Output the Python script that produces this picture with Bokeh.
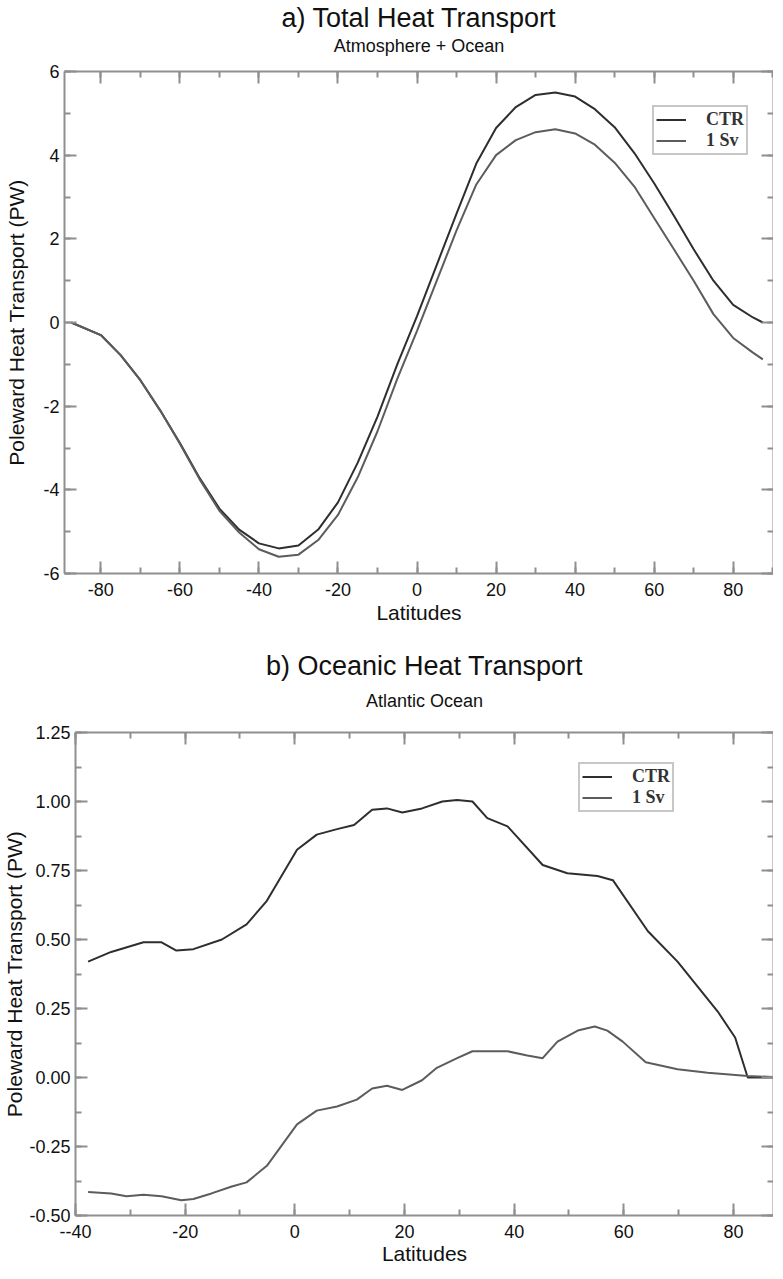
from bokeh.plotting import figure
from bokeh.models import (Title, LinearAxis, Legend, LegendItem, Range1d, Spacer,
                          SingleIntervalTicker, CustomJSTickFormatter)
from bokeh.embed import file_html
from bokeh.resources import INLINE

# ---------- data: panel a (Total heat transport, Atmosphere + Ocean) ----------
lat_a = [-87.5, -80, -75, -70, -65, -60, -55, -50, -45, -40, -35, -30, -25, -20,
         -15, -10, -5, 0, 5, 10, 15, 20, 25, 30, 35, 40, 45, 50, 55, 60, 65, 70,
         75, 80, 85, 87.5]
ctr_a = [0.0, -0.3, -0.78, -1.38, -2.1, -2.88, -3.72, -4.45, -4.95, -5.28, -5.4,
         -5.33, -4.95, -4.3, -3.35, -2.25, -1.0, 0.15, 1.38, 2.6, 3.8, 4.65, 5.15,
         5.44, 5.5, 5.4, 5.1, 4.67, 4.05, 3.33, 2.55, 1.75, 1.0, 0.42, 0.12, 0.0]
sv_a = [0.0, -0.3, -0.78, -1.38, -2.1, -2.9, -3.75, -4.5, -5.02, -5.42, -5.6,
        -5.55, -5.2, -4.6, -3.7, -2.6, -1.35, -0.2, 1.0, 2.2, 3.3, 4.0, 4.36,
        4.55, 4.62, 4.52, 4.25, 3.82, 3.25, 2.5, 1.75, 1.0, 0.2, -0.37, -0.72, -0.88]

# ---------- data: panel b (Oceanic heat transport, Atlantic) ----------
lat_b_ctr = [-37.7, -33.5, -27.6, -24.3, -21.6, -18.5, -13.3, -8.8, -5.1, 0.4, 4.0,
             7.7, 10.8, 14.1, 16.8, 19.6, 23.2, 26.9, 29.6, 32.4, 35.1, 38.8, 45.2,
             49.7, 55.2, 58.0, 64.4, 69.8, 77.1, 80.3, 82.6, 90.0]
ctr_b = [0.42, 0.455, 0.49, 0.49, 0.46, 0.465, 0.5, 0.555, 0.64, 0.825, 0.88,
         0.9, 0.915, 0.97, 0.975, 0.96, 0.975, 1.0, 1.005, 1.0, 0.94, 0.91, 0.77,
         0.74, 0.73, 0.715, 0.53, 0.42, 0.24, 0.145, 0.0, 0.0]
lat_b_sv = [-37.7, -33.5, -30.7, -27.6, -24.3, -20.7, -18.5, -15.2, -11.5, -8.8,
            -5.1, 0.4, 4.0, 7.7, 11.3, 14.1, 16.8, 19.6, 23.2, 25.9, 29.6, 32.4,
            38.8, 42.4, 45.2, 47.9, 51.6, 54.7, 57.0, 59.8, 64.0, 69.8, 75.3, 82.6, 90.0]
sv_b = [-0.415, -0.42, -0.43, -0.425, -0.43, -0.445, -0.44, -0.42, -0.395, -0.38,
        -0.32, -0.17, -0.12, -0.105, -0.08, -0.04, -0.03, -0.045, -0.01, 0.035,
        0.07, 0.095, 0.095, 0.08, 0.07, 0.13, 0.17, 0.185, 0.17, 0.13, 0.055,
        0.03, 0.017, 0.005, 0.0]

series_names = ["CTR", "1 Sv"]
titles_a = ["a) Total Heat Transport", "Atmosphere + Ocean"]
titles_b = ["b) Oceanic Heat Transport", "Atlantic Ocean"]
x_label = "Latitudes"
y_label = "Poleward Heat Transport (PW)"

SANS = "Liberation Sans"
SERIF = "Liberation Serif"
AXIS_COL = "#8f8f8f"
CTR_COL = "#2e2e2e"
SV_COL = "#5c5c5c"
TXT = "#111111"


def style_axis(ax, show_labels):
    ax.axis_line_color = AXIS_COL
    ax.axis_line_width = 2
    ax.major_tick_line_color = AXIS_COL
    ax.minor_tick_line_color = AXIS_COL
    ax.major_tick_line_width = 2
    ax.minor_tick_line_width = 2
    ax.major_tick_in = 12
    ax.major_tick_out = 0
    ax.minor_tick_in = 6
    ax.minor_tick_out = 0
    ax.major_label_text_font = SANS
    ax.axis_label_text_font = SANS
    ax.axis_label_text_font_style = "normal"
    ax.axis_label_text_color = TXT
    if show_labels:
        ax.major_label_text_color = TXT
        ax.major_label_text_font_size = "18px"
        ax.axis_label_text_font_size = "21px"
    else:
        ax.formatter = CustomJSTickFormatter(code="return '';")
        ax.major_label_text_color = None
        ax.major_label_text_font_size = "0px"
        ax.major_label_standoff = 0


def make_panel(titles, xr, yr, xint, yint, fw, fh, borders, leg_loc,
               xs1, ys1, xs2, ys2, xfmt, yfmt, title_gap, sub_gap,
               xlab_gap, xaxis_gap, yaxis_gap):
    p = figure(frame_width=fw, frame_height=fh,
               x_range=Range1d(*xr), y_range=Range1d(*yr),
               output_backend="svg", toolbar_location=None,
               min_border_left=borders[0], min_border_right=borders[1],
               min_border_top=borders[2], min_border_bottom=borders[3],
               x_axis_label=x_label, y_axis_label=y_label)
    p.outline_line_color = None
    p.grid.visible = False
    p.background_fill_color = "white"
    p.border_fill_color = "white"

    p.xaxis.ticker = SingleIntervalTicker(interval=xint, num_minor_ticks=2)
    p.yaxis.ticker = SingleIntervalTicker(interval=yint, num_minor_ticks=2)
    style_axis(p.xaxis[0], True)
    style_axis(p.yaxis[0], True)
    p.xaxis.formatter = CustomJSTickFormatter(code=xfmt)
    p.yaxis.formatter = CustomJSTickFormatter(code=yfmt)
    p.xaxis.major_label_standoff = xlab_gap
    p.xaxis.axis_label_standoff = xaxis_gap
    p.yaxis.major_label_standoff = 5
    p.yaxis.axis_label_standoff = yaxis_gap

    # mirrored axes: top one carries the subtitle as its axis label
    top = LinearAxis(ticker=SingleIntervalTicker(interval=xint, num_minor_ticks=2))
    right = LinearAxis(ticker=SingleIntervalTicker(interval=yint, num_minor_ticks=2))
    style_axis(top, False)
    style_axis(right, False)
    top.axis_label = titles[1]
    top.axis_label_text_font_size = "18px"
    top.axis_label_standoff = sub_gap
    p.add_layout(top, "above")
    p.add_layout(right, "right")

    p.add_layout(Title(text=titles[0], align="center", text_font=SANS,
                       text_font_size="27px", text_font_style="normal",
                       text_color=TXT, standoff=title_gap), "above")

    r1 = p.line(xs1, ys1, line_color=CTR_COL, line_width=2)
    r2 = p.line(xs2, ys2, line_color=SV_COL, line_width=2)

    legend = Legend(items=[LegendItem(label=series_names[0], renderers=[r1]),
                           LegendItem(label=series_names[1], renderers=[r2])],
                    location=leg_loc)
    legend.label_text_font = SERIF
    legend.label_text_font_size = "18px"
    legend.label_text_font_style = "bold"
    legend.label_text_color = "#333333"
    legend.border_line_color = AXIS_COL
    legend.border_line_width = 2
    legend.background_fill_alpha = 1
    legend.padding = 2
    legend.spacing = 0
    legend.margin = 0
    legend.glyph_width = 30
    legend.glyph_height = 21
    legend.label_height = 21
    legend.label_standoff = 20
    p.add_layout(legend)
    return p


fmt_plain = "return String(tick);"
fmt_b_x = "if (Math.abs(tick + 40) < 1e-9) { return '--40'; } return String(tick);"
fmt_b_y = "return tick.toFixed(2);"

pa = make_panel(titles_a, (-89.2, 90.2), (-6, 6), 20, 2, 709, 502,
                (64, 0, 0, 0), (588, 418), lat_a, ctr_a, lat_a, sv_a,
                fmt_plain, fmt_plain, 0, 16, 9, 2, 12)
pb = make_panel(titles_b, (-40, 87.3), (-0.5, 1.25), 20, 0.25, 698, 483,
                (69, 0, 0, 0), (503, 403), lat_b_ctr, ctr_b, lat_b_sv, sv_b,
                fmt_b_x, fmt_b_y, 14, 22, 9, 1, 0)

gap = Spacer(width=10, height=15)

open("out.html", "w").write(file_html([pa, gap, pb], INLINE))
